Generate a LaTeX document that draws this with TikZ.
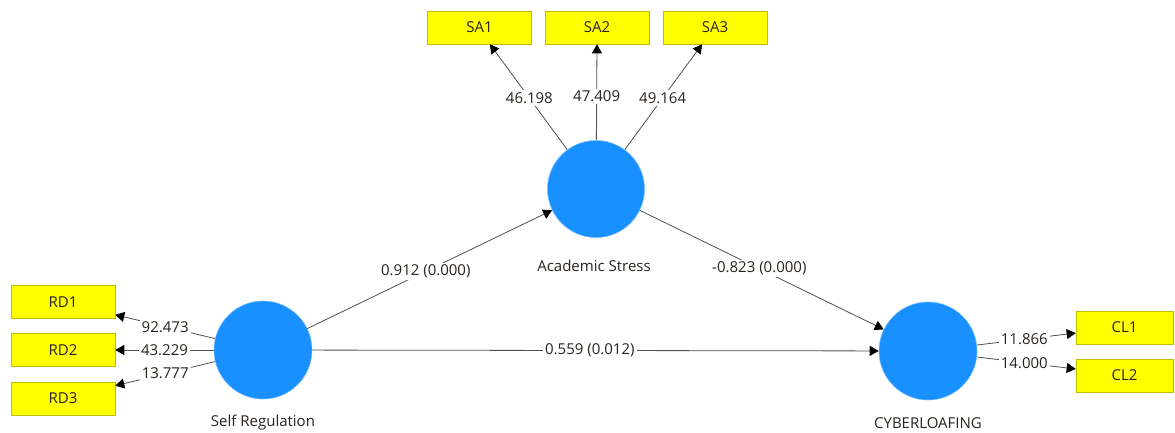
\documentclass[tikz,border=0pt]{standalone}
\usepackage{fontspec}
\setmainfont{Open Sans}
\usetikzlibrary{arrows.meta}
\definecolor{lvblue}{RGB}{24,144,255}
\definecolor{lvedge}{RGB}{120,190,255}
\definecolor{indyellow}{RGB}{255,255,0}
\definecolor{indedge}{RGB}{190,190,0}
\definecolor{linegray}{RGB}{80,80,80}
\definecolor{txtgray}{RGB}{40,35,30}
\begin{document}
\begin{tikzpicture}[x=1pt,y=-1pt,
  font=\fontsize{15}{17}\selectfont, text=txtgray,
  lv/.style={circle, fill=lvblue, draw=lvedge, line width=0.6pt, minimum size=97pt, inner sep=0pt},
  ind/.style={rectangle, fill=indyellow, draw=indedge, line width=0.6pt, minimum width=104pt, minimum height=33pt, inner sep=0pt},
  indr/.style={ind, minimum width=97pt},
  conn/.style={draw=linegray, line width=0.8pt, -{Triangle[length=9pt,width=10pt,color=black]}},
  lab/.style={fill=white, inner sep=2pt, text=txtgray}]
\useasboundingbox (0,0) rectangle (1175,432);
% latent variables
\node[lv] (AS) at (596,189) {};
\node[lv, minimum size=98pt] (SR) at (263,350) {};
\node[lv, minimum size=98pt] (CY) at (928,351) {};
\node (ASl) at (594,266) {Academic Stress};
\node (SRl) at (263,423) {Self Regulation};
\node (CYl) at (928,423) {CYBERLOAFING};
% indicators
\node[ind] (SA1) at (479.5,27.5) {SA1};
\node[ind] (SA2) at (597,27.5) {SA2};
\node[ind] (SA3) at (715,27.5) {SA3};
\node[ind] (RD1) at (63,302) {RD1};
\node[ind] (RD2) at (63,350) {RD2};
\node[ind] (RD3) at (63,398.5) {RD3};
\node[indr] (CL1) at (1124.5,327.5) {CL1};
\node[indr] (CL2) at (1124.5,375.5) {CL2};
% structural paths
\draw[conn] (SR) -- node[lab, pos=0.484] {0.912 (0.000)} (AS);
\draw[conn] (AS) -- node[lab, pos=0.49] {-0.823 (0.000)} (CY);
\draw[conn] (SR) -- node[lab, pos=0.49] {0.559 (0.012)} (CY);
% outer loadings
\draw[conn] (AS) -- node[lab, pos=0.49] {46.198} ([xshift=10.5pt]SA1.south);
\draw[conn] (AS) -- node[lab, pos=0.46] {47.409} (SA2.south);
\draw[conn] (AS) -- node[lab, pos=0.49] {49.164} ([xshift=-13pt]SA3.south);
\draw[conn] (SR) -- node[lab, pos=0.5] {92.473} ([yshift=4pt]RD1.south east);
\draw[conn] (SR) -- node[lab, pos=0.5] {43.229} (RD2.east);
\draw[conn] (SR) -- node[lab, pos=0.5] {13.777} ([yshift=-4pt]RD3.north east);
\draw[conn] (CY) -- node[lab, pos=0.48] {11.866} ([yshift=-5.5pt]CL1.west);
\draw[conn] (CY) -- node[lab, pos=0.48] {14.000} ([yshift=6.5pt]CL2.west);
\end{tikzpicture}
\end{document}
